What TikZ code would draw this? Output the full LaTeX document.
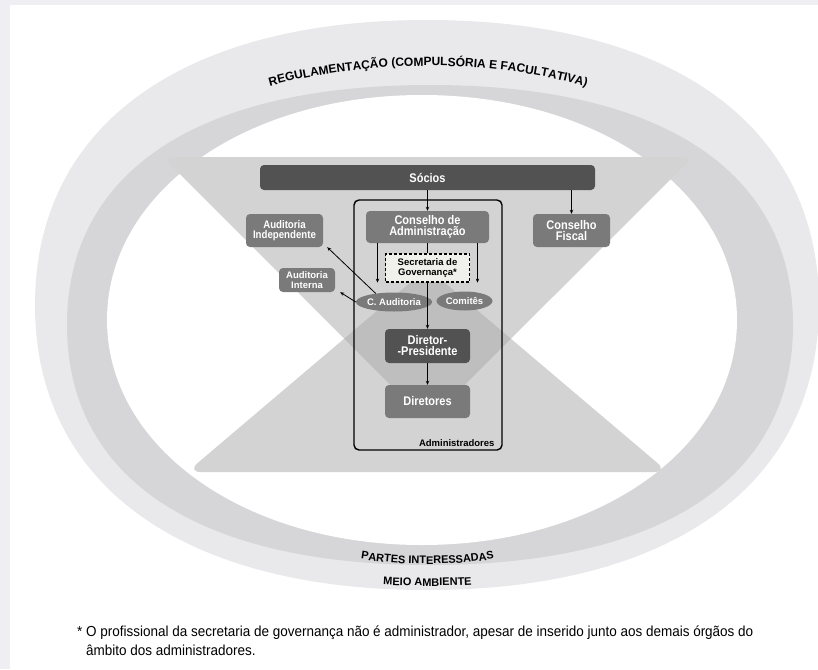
\documentclass[tikz,border=0pt]{standalone}
\usepackage{fontspec}
\setmainfont{Liberation Sans}
\newfontfamily\condfont{Liberation Sans}[FakeStretch=0.93]
\newfontfamily\boxfont{Liberation Sans}[FakeStretch=0.88]
\usetikzlibrary{shapes.geometric,decorations.text,arrows.meta}

\definecolor{framegray}{RGB}{238,238,243}
\definecolor{ringout}{RGB}{233,233,235}
\definecolor{ringin}{RGB}{214,214,216}
\definecolor{trapgray}{RGB}{211,211,211}
\definecolor{diamgray}{RGB}{190,190,190}
\definecolor{boxdark}{RGB}{82,82,82}
\definecolor{boxmid}{RGB}{122,122,122}
\definecolor{secrfill}{RGB}{240,240,236}

\begin{document}
\begin{tikzpicture}[x=1pt,y=-1pt,
  >={Stealth[length=4pt,width=3.4pt]},
  darkbox/.style={fill=boxdark,rounded corners=4pt,text=white,align=center,
    inner sep=0pt,font=\boxfont\bfseries\fontsize{12.5}{11}\selectfont},
  midbox/.style={darkbox,fill=boxmid},
  smallbox/.style={midbox,font=\bfseries\fontsize{9.5}{9.5}\selectfont},
  oval/.style={ellipse,fill=boxmid,text=white,inner sep=0pt,
    minimum height=19pt,font=\bfseries\fontsize{9.5}{9.5}\selectfont},
  secrbox/.style={draw,fill=secrfill,line width=1.2pt,dash pattern=on 3pt off 2pt,
    align=center,inner sep=0pt,font=\bfseries\fontsize{9.5}{9.5}\selectfont},
  ]

  \newcommand\Mx{427.5}
  %% #1,#2 centre, #3,#4 radii, #5 handle (0.552 = ellipse)
  \newcommand\ringpath[5]{(#1+#3,#2) .. controls (#1+#3,#2+#5*#4) and (#1+#5*#3,#2+#4) .. (#1,#2+#4)
    .. controls (#1-#5*#3,#2+#4) and (#1-#3,#2+#5*#4) .. (#1-#3,#2)
    .. controls (#1-#3,#2-#5*#4) and (#1-#5*#3,#2-#4) .. (#1,#2-#4)
    .. controls (#1+#5*#3,#2-#4) and (#1+#3,#2-#5*#4) .. (#1+#3,#2) -- cycle}

  \useasboundingbox (0,0) rectangle (818,669);
  \fill[framegray] (0,0) rectangle (818,669);
  \fill[white] (10,5) rectangle (818,669);

  %% ring
  \fill[ringout] \ringpath{427}{305}{392}{285}{0.627};
  \fill[ringin] \ringpath{430}{325}{363}{240}{0.64};
  \fill[white] \ringpath{422}{320}{315}{225}{0.565};

  \path[decorate,decoration={text along path,text align=center,
    text={|\bfseries\fontsize{12}{12}\selectfont|REGULAMENTAÇÃO (COMPULSÓRIA E FACULTATIVA)}}]
    (260,89) .. controls (362,58) and (498,58) .. (596,90);
  \path[decorate,decoration={text along path,text align=center,
    text={|\bfseries\fontsize{11}{11}\selectfont|PARTES INTERESSADAS}}]
    (340,555) .. controls (395,567) and (460,567) .. (515,555);
  \path[decorate,decoration={text along path,text align=center,
    text={|\bfseries\fontsize{11}{11}\selectfont|MEIO AMBIENTE}}]
    (360,583) .. controls (400,587) and (455,587) .. (495,583);

  %% hourglass
  \fill[trapgray,rounded corners=10pt] (163,157) -- (693,157) -- (\Mx,422) -- cycle;
  \fill[trapgray,rounded corners=14pt] (187,472) -- (668,472) -- (\Mx,268) -- cycle;
  \begin{scope}
    \clip[rounded corners=10pt] (163,157) -- (693,157) -- (\Mx,422) -- cycle;
    \fill[diamgray,rounded corners=14pt] (187,472) -- (668,472) -- (\Mx,268) -- cycle;
  \end{scope}

  %% boxes
  \node[draw,line width=1.4pt,rounded corners=5pt,minimum width=148pt,
    minimum height=250pt] (adm) at (428,325) {};
  \node[anchor=south east,inner sep=0pt,font=\bfseries\fontsize{9.5}{9.5}\selectfont]
    (admlbl) at ([xshift=-8pt,yshift=4pt]adm.south east) {Administradores};

  \node[darkbox,minimum width=335pt,minimum height=25pt] (socios) at (\Mx,177.5) {Sócios};
  \node[midbox,minimum width=123pt,minimum height=32pt] (cons) at (\Mx,227) {Conselho de\\Administração};
  \node[midbox,minimum width=77pt,minimum height=33pt] (fiscal) at (571.5,230.5) {Conselho\\Fiscal};
  \node[midbox,minimum width=77pt,minimum height=33pt,
    font=\boxfont\bfseries\fontsize{11}{10}\selectfont] (audind) at (284.5,230.5) {Auditoria\\Independente};
  \node[smallbox,minimum width=56pt,minimum height=24pt] (audint) at (307,280) {Auditoria\\Interna};
  \node[secrbox,minimum width=84pt,minimum height=28pt] (secr) at (\Mx,268) {Secretaria de\\Governança*};
  \node[oval,minimum width=62pt] (caud) at (394,302) {C. Auditoria};
  \node[oval,minimum width=56pt] (comit) at (464.5,301) {Comitês};
  \node[darkbox,minimum width=85pt,minimum height=34pt] (dpres) at (\Mx,346) {Diretor-\\-Presidente};
  \node[midbox,minimum width=85pt,minimum height=33pt] (dir) at (\Mx,401.5) {Diretores};

  %% connectors
  \draw[->,line width=0.8pt] (socios.south -| cons.north) -- (cons.north);
  \draw[->,line width=0.8pt] (socios.south -| fiscal.north) -- (fiscal.north);
  \draw[line width=0.8pt] (cons.south) -- (secr.north);
  \draw[->,line width=0.8pt] (secr.south) -- (dpres.north);
  \draw[->,line width=0.8pt] ([xshift=-50pt]cons.south) -- ([xshift=-50pt]cons.south |- secr.south); %% to C. Auditoria
  \draw[->,line width=0.8pt] ([xshift=50pt]cons.south) -- ([xshift=50pt]cons.south |- secr.south); %% to Comites
  \draw[->,line width=0.8pt] (dpres) -- (dir);
  \draw[->,line width=0.8pt] (caud.155) -- ([xshift=4pt]audind.south east);
  \draw[->,line width=0.8pt] (caud.west) -- ([xshift=5pt]audint.south east);

  %% footnote
  \node[anchor=north west,inner sep=0pt,align=left,
    font=\condfont\fontsize{14.5}{18.5}\selectfont] (nota) at (77,626)
    {* O profissional da secretaria de governança não é administrador, apesar de inserido junto aos demais órgãos do\\
     \phantom{* }âmbito dos administradores.};
\end{tikzpicture}
\end{document}
